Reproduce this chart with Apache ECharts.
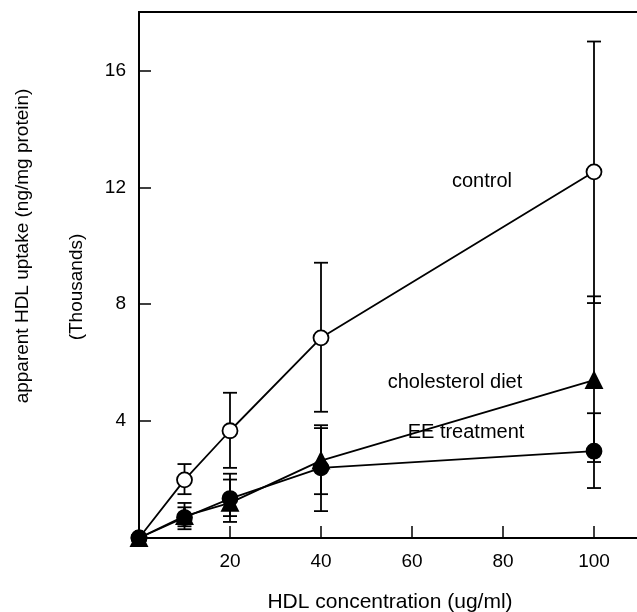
<!DOCTYPE html>
<html>
<head>
<meta charset="utf-8">
<script src="https://cdn.jsdelivr.net/npm/echarts@6/dist/echarts.min.js"></script>
<style>
html,body{margin:0;padding:0;background:#fff;overflow:hidden;}
#chart{width:637px;height:612px;}
</style>
</head>
<body>
<div id="chart"></div>
<script>
// HDL concentration (ug/ml)
const concentrations = [0, 10, 20, 40, 100];
// apparent HDL uptake, thousands of ng/mg protein
const controlMean = [0, 1.99, 3.67, 6.85, 12.53];
const controlHigh = [null, 2.53, 4.97, 9.42, 16.99];
const controlLow  = [null, 1.50, 2.40, 4.32, 8.04];
const cholMean = [0, 0.75, 1.20, 2.65, 5.40];
const cholHigh = [null, 1.20, 2.20, 3.86, 8.27];
const cholLow  = [null, 0.30, 0.55, 1.50, 2.60];
const eeMean = [0, 0.70, 1.35, 2.40, 2.97];
const eeHigh = [null, 1.05, 2.00, 3.76, 4.27];
const eeLow  = [null, 0.40, 0.75, 0.92, 1.71];
const yTicks = [4, 8, 12, 16];
const xTicks = [20, 40, 60, 80, 100];

const FONT = 'Liberation Sans, Arial, Helvetica, sans-serif';

function pairs(ys) { return concentrations.map((x, i) => [x, ys[i]]); }
function errRows(lo, hi) {
  const rows = [];
  concentrations.forEach((x, i) => { if (lo[i] != null) rows.push([x, lo[i], hi[i]]); });
  return rows;
}
function errSeries(lo, hi) {
  return {
    type: 'custom',
    z: 1,
    silent: true,
    clip: false,
    data: errRows(lo, hi),
    encode: { x: 0, y: [1, 2] },
    renderItem: function (params, api) {
      const x = api.value(0);
      const pLo = api.coord([x, api.value(1)]);
      const pHi = api.coord([x, api.value(2)]);
      const w = 7;
      const st = { stroke: '#000', lineWidth: 1.8 };
      return {
        type: 'group',
        children: [
          { type: 'line', shape: { x1: pLo[0], y1: pLo[1], x2: pHi[0], y2: pHi[1] }, style: st },
          { type: 'line', shape: { x1: pLo[0] - w, y1: pLo[1], x2: pLo[0] + w, y2: pLo[1] }, style: st },
          { type: 'line', shape: { x1: pHi[0] - w, y1: pHi[1], x2: pHi[0] + w, y2: pHi[1] }, style: st }
        ]
      };
    }
  };
}
function lineSeries(name, ys, symbol, size, fill) {
  return {
    name: name,
    type: 'line',
    z: 3,
    data: pairs(ys),
    symbol: symbol,
    symbolSize: size,
    showAllSymbol: true,
    lineStyle: { color: '#000', width: 1.8 },
    itemStyle: { color: fill, borderColor: '#000', borderWidth: 1.8 },
    emphasis: { disabled: true },
    animation: false
  };
}

const chart = echarts.init(document.getElementById('chart'), null, { renderer: 'canvas' });
chart.setOption({
  animation: false,
  backgroundColor: '#fff',
  grid: {
    left: 139, top: 12, width: 500.5, height: 526,
    outerBoundsMode: 'none',
    containLabel: false,
    show: true, borderColor: '#000', borderWidth: 1.8, backgroundColor: 'transparent'
  },
  xAxis: {
    type: 'value', min: 0, max: 110, interval: 20,
    axisLine: { lineStyle: { color: '#000', width: 1.8 } },
    axisTick: { inside: true, length: 12, lineStyle: { color: '#000', width: 1.5 } },
    splitLine: { show: false },
    axisLabel: {
      color: '#000', fontSize: 19, fontFamily: FONT, margin: 14,
      formatter: v => (xTicks.indexOf(v) >= 0 ? String(v) : '')
    }
  },
  yAxis: {
    type: 'value', min: 0, max: 18, interval: 4,
    axisLine: { lineStyle: { color: '#000', width: 1.8 } },
    axisTick: { inside: true, length: 12, lineStyle: { color: '#000', width: 1.5 } },
    splitLine: { show: false },
    axisLabel: {
      color: '#000', fontSize: 19, fontFamily: FONT, margin: 13,
      formatter: v => (yTicks.indexOf(v) >= 0 ? String(v) : '')
    }
  },
  graphic: [
    { type: 'text', x: 23, y: 246, rotation: Math.PI / 2,
      style: { text: 'apparent HDL uptake (ng/mg protein)', fill: '#000', font: '19px ' + FONT, align: 'center', verticalAlign: 'middle' } },
    { type: 'text', x: 77, y: 287, rotation: Math.PI / 2,
      style: { text: '(Thousands)', fill: '#000', font: '19px ' + FONT, align: 'center', verticalAlign: 'middle' } },
    { type: 'text', x: 390, y: 602,
      style: { text: 'HDL concentration (ug/ml)', fill: '#000', font: '21px ' + FONT, align: 'center', verticalAlign: 'middle' } },
    { type: 'text', x: 482, y: 181,
      style: { text: 'control', fill: '#000', font: '20px ' + FONT, align: 'center', verticalAlign: 'middle' } },
    { type: 'text', x: 455, y: 382,
      style: { text: 'cholesterol diet', fill: '#000', font: '20px ' + FONT, align: 'center', verticalAlign: 'middle' } },
    { type: 'text', x: 466, y: 432,
      style: { text: 'EE treatment', fill: '#000', font: '20px ' + FONT, align: 'center', verticalAlign: 'middle' } }
  ],
  series: [
    errSeries(controlLow, controlHigh),
    errSeries(cholLow, cholHigh),
    errSeries(eeLow, eeHigh),
    lineSeries('control', controlMean, 'circle', 15, '#fff'),
    lineSeries('cholesterol diet', cholMean, 'triangle', 16, '#000'),
    lineSeries('EE treatment', eeMean, 'circle', 15, '#000')
  ]
});
</script>
</body>
</html>
